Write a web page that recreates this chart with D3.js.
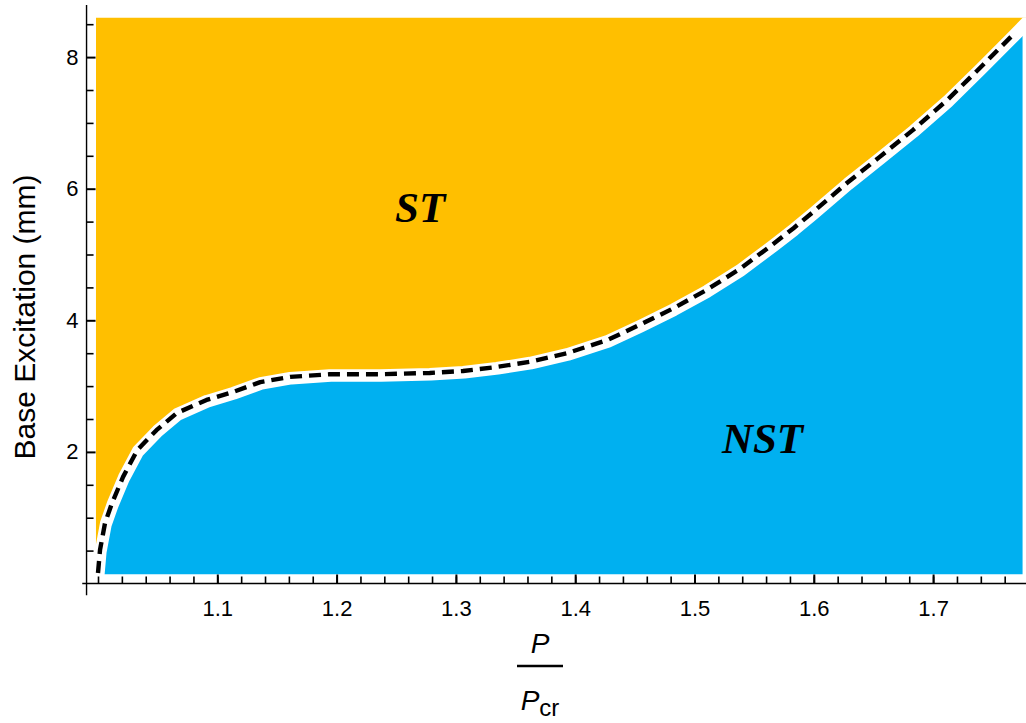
<!DOCTYPE html>
<html>
<head>
<meta charset="utf-8">
<script src="https://cdn.jsdelivr.net/npm/d3@7"></script>
<style>
  html, body { margin: 0; padding: 0; background: #fff; }
  svg { display: block; }
  .tick text { font-family: "Liberation Sans", Arial, sans-serif; }
</style>
</head>
<body>
<div id="chart"></div>
<script>
// Stability boundary: load ratio P/Pcr vs. base excitation amplitude (mm)
const boundaryRatio = [1.000, 1.0017, 1.0059, 1.0117, 1.021, 1.033, 1.049, 1.066, 1.091, 1.113,
  1.136, 1.161, 1.194, 1.236, 1.278, 1.306, 1.334, 1.362, 1.393, 1.427, 1.454, 1.482,
  1.510, 1.538, 1.566, 1.583, 1.599, 1.628, 1.655, 1.683, 1.712, 1.739, 1.767, 1.781];
const boundaryAmp = [0.16, 0.51, 0.92, 1.22, 1.62, 2.03, 2.33, 2.59, 2.79, 2.91,
  3.06, 3.14, 3.18, 3.18, 3.20, 3.23, 3.29, 3.37, 3.50, 3.70, 3.93, 4.18,
  4.46, 4.78, 5.16, 5.40, 5.64, 6.09, 6.48, 6.89, 7.35, 7.83, 8.34, 8.60];

// Region extents
const regionTop = 8.6;        // top of the ST region
const regionLeft = 0.9983;    // left edge of the ST region
const nstBottom = 0.14;       // bottom of the NST region
const nstRight = 1.775;       // right edge of the NST region
const stRight = 1.778;

// Axis ticks and labels
const xMajorTicks = [1.1, 1.2, 1.3, 1.4, 1.5, 1.6, 1.7];
const xMinorTicks = d3.range(1.0, 1.7601, 0.02);
const yMajorTicks = [2, 4, 6, 8];
const yMinorTicks = d3.range(0.5, 8.51, 0.5).filter(v => v % 2 !== 0);

// Region labels
const regionLabels = [
  { text: "ST",  ratio: 1.27,  amp: 5.49 },
  { text: "NST", ratio: 1.557, amp: 1.98 }
];

const colors = { st: "#FFBF00", nst: "#00B0F0" };

const W = 1026, H = 723;
const svg = d3.select("#chart").append("svg").attr("width", W).attr("height", H);

const x = d3.scaleLinear().domain([1.0, 1.8]).range([98, 98 + 8 * 119.3]);
const y = d3.scaleLinear().domain([0, 8]).range([583.5, 583.5 - 8 * 65.8]);

// axes cross slightly outside the data region
const yAxisAt = 0.9904;
const xAxisAt = 0;

const boundary = boundaryRatio.map((r, i) => [r, boundaryAmp[i]]);
const line = d3.line().x(d => x(d[0])).y(d => y(d[1]));

const defs = svg.append("defs");
defs.append("clipPath").attr("id", "clipNst").append("rect")
  .attr("x", x(1.0) - 2).attr("y", 0)
  .attr("width", x(nstRight) - x(1.0) + 2).attr("height", H);
defs.append("clipPath").attr("id", "clipSt").append("rect")
  .attr("x", 0).attr("y", y(regionTop))
  .attr("width", x(stRight)).attr("height", H);
defs.append("clipPath").attr("id", "clipTop").append("rect")
  .attr("x", 0).attr("y", y(regionTop))
  .attr("width", W).attr("height", H);

// ST region (above boundary)
const stPoly = [[regionLeft, regionTop], [regionLeft, 0.5]]
  .concat(boundary)
  .concat([[stRight, regionTop]]);
svg.append("path")
  .attr("d", line(stPoly) + "Z")
  .attr("fill", colors.st)
  .attr("clip-path", "url(#clipSt)");

// NST region (below boundary)
const nstPoly = boundary.concat([[boundaryRatio[boundaryRatio.length - 1], nstBottom], [1.0, nstBottom]]);
svg.append("path")
  .attr("d", line(nstPoly) + "Z")
  .attr("fill", colors.nst)
  .attr("clip-path", "url(#clipNst)");

// white band along the boundary
const band = svg.append("g").attr("clip-path", "url(#clipTop)");
band.append("path").attr("d", line(boundary))
  .attr("fill", "none").attr("stroke", "#fff").attr("stroke-width", 10)
  .attr("stroke-linejoin", "round");
band.append("path").attr("d", line(boundary))
  .attr("transform", "translate(1.5,2.5)")
  .attr("fill", "none").attr("stroke", "#fff").attr("stroke-width", 10)
  .attr("stroke-linejoin", "round");

// dashed boundary
band.append("path").attr("d", line(boundary.slice(0, -1)))
  .attr("fill", "none").attr("stroke", "#000").attr("stroke-width", 4.4)
  .attr("stroke-dasharray", "12,7")
  .attr("stroke-linejoin", "round");

// region labels
svg.selectAll("text.region").data(regionLabels).join("text")
  .attr("class", "region")
  .attr("x", d => x(d.ratio)).attr("y", d => y(d.amp))
  .attr("text-anchor", "middle")
  .attr("font-family", "'Liberation Serif', 'Times New Roman', serif")
  .attr("font-weight", "bold").attr("font-style", "italic")
  .attr("font-size", 43)
  .attr("fill", "#000")
  .text(d => d.text);

// axis lines
const axes = svg.append("g");
axes.append("line")
  .attr("x1", x(yAxisAt)).attr("x2", x(yAxisAt))
  .attr("y1", y(-0.18)).attr("y2", y(8.79))
  .attr("stroke", "#000").attr("stroke-width", 1.4);
axes.append("line")
  .attr("x1", x(0.9868)).attr("x2", W)
  .attr("y1", y(xAxisAt)).attr("y2", y(xAxisAt))
  .attr("stroke", "#000").attr("stroke-width", 1.4);

// x ticks (pointing inward)
const gx = svg.append("g").attr("transform", `translate(0,${y(xAxisAt)})`);
gx.call(d3.axisBottom(x).tickValues(xMinorTicks).tickSizeInner(-7).tickSizeOuter(0).tickFormat(""));
gx.selectAll(".tick line").attr("stroke-width", 1.6);
const gxMaj = svg.append("g").attr("transform", `translate(0,${y(xAxisAt)})`);
gxMaj.call(d3.axisBottom(x).tickValues(xMajorTicks).tickSizeInner(-9).tickSizeOuter(0)
  .tickPadding(16.5).tickFormat(d3.format(".1f")));
[gx, gxMaj].forEach(g => g.select(".domain").remove());
gxMaj.selectAll(".tick line").attr("stroke-width", 2);
gxMaj.selectAll(".tick text").attr("font-size", 22).attr("fill", "#000");

// y ticks (pointing inward)
const gy = svg.append("g").attr("transform", `translate(${x(yAxisAt)},0)`);
gy.call(d3.axisLeft(y).tickValues(yMinorTicks).tickSizeInner(-7).tickSizeOuter(0).tickFormat(""));
gy.selectAll(".tick line").attr("stroke-width", 1.6);
const gyMaj = svg.append("g").attr("transform", `translate(${x(yAxisAt)},0)`);
gyMaj.call(d3.axisLeft(y).tickValues(yMajorTicks).tickSizeInner(-9).tickSizeOuter(0)
  .tickPadding(8).tickFormat(d3.format("d")));
[gy, gyMaj].forEach(g => g.select(".domain").remove());
gyMaj.selectAll(".tick line").attr("stroke-width", 2);
gyMaj.selectAll(".tick text").attr("font-size", 22).attr("fill", "#000");

// y axis title
svg.append("text")
  .attr("transform", "translate(35,317) rotate(-90)")
  .attr("text-anchor", "middle")
  .attr("font-family", "'Liberation Sans', Arial, sans-serif")
  .attr("font-size", 30)
  .attr("fill", "#000")
  .text("Base Excitation (mm)");

// x axis title: P / P_cr
const xt = svg.append("g").attr("font-family", "'Liberation Sans', Arial, sans-serif").attr("fill", "#000");
xt.append("text").attr("x", 540).attr("y", 653).attr("text-anchor", "middle")
  .attr("font-size", 28).attr("font-style", "italic").text("P");
xt.append("line").attr("x1", 517).attr("x2", 563).attr("y1", 666).attr("y2", 666)
  .attr("stroke", "#000").attr("stroke-width", 2.4);
const den = xt.append("text").attr("x", 540).attr("y", 710).attr("text-anchor", "middle");
den.append("tspan").attr("font-size", 28).attr("font-style", "italic").text("P");
den.append("tspan").attr("font-size", 24).attr("dy", 6).text("cr");
</script>
</body>
</html>
